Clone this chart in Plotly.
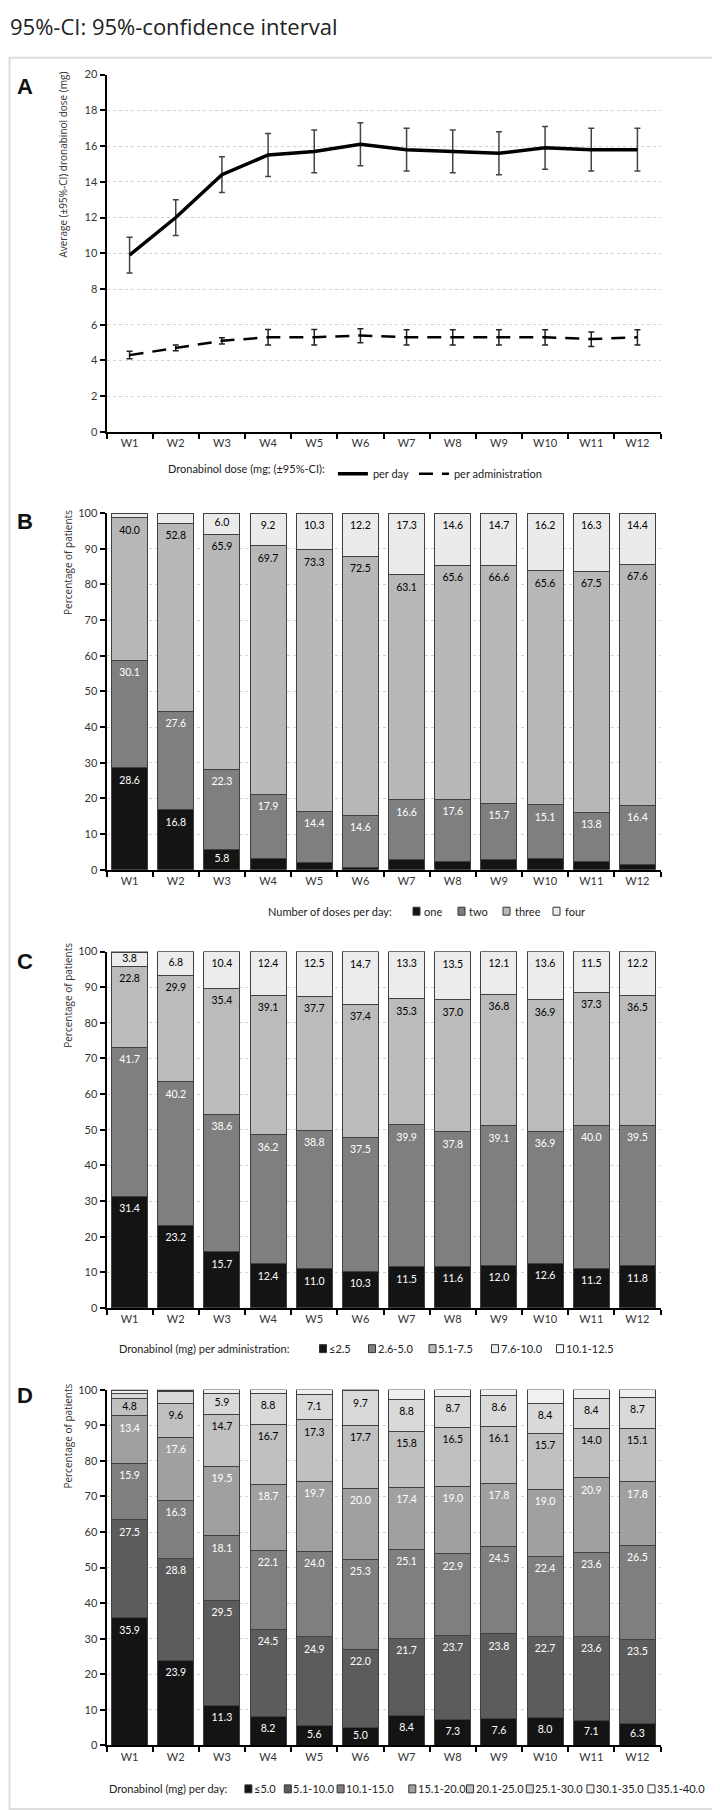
import plotly.graph_objects as go

# ---------------- data ----------------
weeks = ["W1", "W2", "W3", "W4", "W5", "W6", "W7", "W8", "W9", "W10", "W11", "W12"]

# Panel A: average dronabinol dose (mg) with 95%-CI
dose_per_day = [9.9, 12.0, 14.4, 15.5, 15.7, 16.1, 15.8, 15.7, 15.6, 15.9, 15.8, 15.8]
dose_per_day_lo = [8.9, 11.0, 13.4, 14.3, 14.5, 14.9, 14.6, 14.5, 14.4, 14.7, 14.6, 14.6]
dose_per_day_hi = [10.9, 13.0, 15.4, 16.7, 16.9, 17.3, 17.0, 16.9, 16.8, 17.1, 17.0, 17.0]
dose_per_admin = [4.3, 4.7, 5.1, 5.3, 5.3, 5.4, 5.3, 5.3, 5.3, 5.3, 5.2, 5.3]
dose_per_admin_lo = [4.1, 4.55, 4.93, 4.87, 4.87, 5.0, 4.87, 4.87, 4.87, 4.87, 4.78, 4.87]
dose_per_admin_hi = [4.52, 4.87, 5.28, 5.74, 5.74, 5.78, 5.72, 5.72, 5.72, 5.72, 5.6, 5.72]

# Panel B: number of doses per day (% of patients)
b_names = ["one", "two", "three", "four"]
b_one = [28.6, 16.8, 5.8, 3.2, 2.0, 0.7, 3.0, 2.2, 3.0, 3.1, 2.4, 1.6]
b_two = [30.1, 27.6, 22.3, 17.9, 14.4, 14.6, 16.6, 17.6, 15.7, 15.1, 13.8, 16.4]
b_three = [40.0, 52.8, 65.9, 69.7, 73.3, 72.5, 63.1, 65.6, 66.6, 65.6, 67.5, 67.6]
b_four = [1.3, 2.8, 6.0, 9.2, 10.3, 12.2, 17.3, 14.6, 14.7, 16.2, 16.3, 14.4]

# Panel C: dronabinol (mg) per administration (% of patients)
c_names = ["≤2.5", "2.6-5.0", "5.1-7.5", "7.6-10.0", "10.1-12.5"]
c_le25 = [31.4, 23.2, 15.7, 12.4, 11.0, 10.3, 11.5, 11.6, 12.0, 12.6, 11.2, 11.8]
c_26_50 = [41.7, 40.2, 38.6, 36.2, 38.8, 37.5, 39.9, 37.8, 39.1, 36.9, 40.0, 39.5]
c_51_75 = [22.8, 29.9, 35.4, 39.1, 37.7, 37.4, 35.3, 37.0, 36.8, 36.9, 37.3, 36.5]
c_76_100 = [3.8, 6.8, 10.4, 12.4, 12.5, 14.7, 13.3, 13.5, 12.1, 13.6, 11.5, 12.2]
c_101_125 = [0.3, 0, 0, 0, 0, 0, 0, 0, 0, 0, 0, 0]

# Panel D: dronabinol (mg) per day (% of patients)
d_names = ["≤5.0", "5.1-10.0", "10.1-15.0", "15.1-20.0", "20.1-25.0", "25.1-30.0", "30.1-35.0", "35.1-40.0"]
d_le5 = [35.9, 23.9, 11.3, 8.2, 5.6, 5.0, 8.4, 7.3, 7.6, 8.0, 7.1, 6.3]
d_5_10 = [27.5, 28.8, 29.5, 24.5, 24.9, 22.0, 21.7, 23.7, 23.8, 22.7, 23.6, 23.5]
d_10_15 = [15.9, 16.3, 18.1, 22.1, 24.0, 25.3, 25.1, 22.9, 24.5, 22.4, 23.6, 26.5]
d_15_20 = [13.4, 17.6, 19.5, 18.7, 19.7, 20.0, 17.4, 19.0, 17.8, 19.0, 20.9, 17.8]
d_20_25 = [4.8, 9.6, 14.7, 16.7, 17.3, 17.7, 15.8, 16.5, 16.1, 15.7, 14.0, 15.1]
d_25_30 = [1.5, 3.2, 5.9, 8.8, 7.1, 9.7, 8.8, 8.7, 8.6, 8.4, 8.4, 8.7]
d_30_35 = [0.7, 0.5, 1.0, 1.0, 1.4, 0.3, 2.8, 1.9, 1.6, 3.8, 2.4, 2.1]
d_35_40 = [0.3, 0.1, 0, 0, 0, 0, 0, 0, 0, 0, 0, 0]

# ---------------- styling / layout ----------------
W, H = 720, 1810
def px(x):
    return x / W
def py(y):
    return 1 - y / H

LABEL_FONT = "Lato"
TITLE_FONT = "Open Sans"
X_DOMAIN = [px(98.5), px(652.5)]
PANELS = {  # pixel top (max value) / bottom (0) of each plot area
    "A": (60.0, 420.0),
    "B": (501.7, 861.0),
    "C": (943.3, 1302.3),
    "D": (1384.7, 1743.0),
}
LABEL_DROP = 3.7  # value units between a segment's top and its label centre

b_colors = ["#141414", "#7f7f7f", "#b8b8b8", "#ebebeb"]
b_text = ["white", "white", "black", "black"]
c_colors = ["#141414", "#7f7f7f", "#bbbbbb", "#ececec", "#ffffff"]
c_text = ["white", "white", "black", "black", "black"]
d_colors = ["#141414", "#5c5c5c", "#7f7f7f", "#a0a0a0", "#c0c0c0", "#d9d9d9", "#f0f0f0", "#ffffff"]
d_text = ["white", "white", "white", "white", "black", "black", "black", "black"]

fig = go.Figure()

# ---- Panel A ----
fig.add_trace(go.Scatter(
    x=weeks, y=dose_per_day, mode="lines", name="per day",
    line=dict(color="black", width=3.5),
    error_y=dict(type="data", symmetric=False,
                 array=[h - m for h, m in zip(dose_per_day_hi, dose_per_day)],
                 arrayminus=[m - l for m, l in zip(dose_per_day, dose_per_day_lo)],
                 color="#444444", thickness=1.5, width=3),
    xaxis="x", yaxis="y", legend="legend", hoverinfo="skip"))
fig.add_trace(go.Scatter(
    x=weeks, y=dose_per_admin, mode="lines", name="per administration",
    line=dict(color="black", width=2.5, dash="14px,9px"),
    error_y=dict(type="data", symmetric=False,
                 array=[h - m for h, m in zip(dose_per_admin_hi, dose_per_admin)],
                 arrayminus=[m - l for m, l in zip(dose_per_admin, dose_per_admin_lo)],
                 color="#222222", thickness=1.5, width=3),
    xaxis="x", yaxis="y", legend="legend", hoverinfo="skip"))

def add_stack(series, names, colors, tcolors, ax, threshold):
    base = [0.0] * len(weeks)
    label_traces = []
    for vals, nm, col, tc in zip(series, names, colors, tcolors):
        fig.add_trace(go.Bar(
            x=weeks, y=vals, name=nm,
            marker=dict(color=col, line=dict(color="#404040", width=1)),
            xaxis="x" + ax, yaxis="y" + ax, showlegend=False, hoverinfo="skip"))
        tops = [b + v for b, v in zip(base, vals)]
        ly = [max(t - LABEL_DROP, (b + t) / 2) for b, t in zip(base, tops)]
        labels = [f"{v:.1f}" if v >= threshold else "" for v in vals]
        label_traces.append(go.Scatter(
            x=weeks, y=ly, mode="text", text=labels, textposition="middle center",
            textfont=dict(family=LABEL_FONT, size=10.5, color=tc),
            xaxis="x" + ax, yaxis="y" + ax, showlegend=False, hoverinfo="skip",
            cliponaxis=False))
        base = tops
    for t in label_traces:
        fig.add_trace(t)

add_stack([b_one, b_two, b_three, b_four], b_names, b_colors, b_text, "2", 5.0)
add_stack([c_le25, c_26_50, c_51_75, c_76_100, c_101_125], c_names, c_colors, c_text, "3", 3.5)
add_stack([d_le5, d_5_10, d_10_15, d_15_20, d_20_25, d_25_30, d_30_35, d_35_40],
          d_names, d_colors, d_text, "4", 4.5)

tickfont = dict(family=LABEL_FONT, size=11, color="#333333")
layout_axes = {}
for i, key in enumerate(["A", "B", "C", "D"]):
    suffix = "" if i == 0 else str(i + 1)
    top, bottom = PANELS[key]
    layout_axes["xaxis" + suffix] = dict(
        domain=X_DOMAIN, anchor="y" + suffix, type="category", range=[-0.5, 11.5],
        tickson="boundaries", ticks="outside", ticklen=5, tickwidth=1.5, tickcolor="black",
        showline=True, linecolor="black", linewidth=2, showgrid=False, zeroline=False,
        tickfont=tickfont, fixedrange=True)
    if key == "A":
        yr, dt = [0, 20], 2
    else:
        yr, dt = [0, 100], 10
    layout_axes["yaxis" + suffix] = dict(
        domain=[py(bottom), py(top)], anchor="x" + suffix, range=yr, dtick=dt,
        ticks="outside", ticklen=5, tickwidth=1.5, tickcolor="black",
        showline=True, linecolor="black", linewidth=2,
        showgrid=True, gridcolor="#d2d2d2", gridwidth=1, griddash="dot",
        zeroline=False, tickfont=tickfont, fixedrange=True)

annotations = []
shapes = []

# top caption
annotations.append(dict(text="95%-CI: 95%-confidence interval", x=0, y=py(11), xref="paper", yref="paper",
                        xanchor="left", yanchor="middle", showarrow=False,
                        font=dict(family=TITLE_FONT, size=22, color="#222222")))
# outer frame
shapes.append(dict(type="rect", xref="paper", yref="paper", x0=px(1.5), x1=px(718), y0=py(1807), y1=py(43),
                   line=dict(color="#dddddd", width=2), fillcolor="rgba(0,0,0,0)", layer="below"))

# panel letters
for letter, yc in [("A", 72), ("B", 510), ("C", 953), ("D", 1390.5)]:
    annotations.append(dict(text=f"<b>{letter}</b>", x=px(17), y=py(yc), xref="paper", yref="paper",
                            xanchor="center", yanchor="middle", showarrow=False,
                            font=dict(family="Liberation Sans", size=22, color="#111111")))

# y-axis titles
for txt, xc, ytop in [("Average (±95%-CI) dronabinol dose (mg)", 55, 55),
                      ("Percentage of patients", 60, 497),
                      ("Percentage of patients", 60, 933),
                      ("Percentage of patients", 60, 1377)]:
    annotations.append(dict(text=txt, x=px(xc), y=py(ytop), xref="paper", yref="paper",
                            xanchor="center", yanchor="top", textangle=-90, showarrow=False,
                            font=dict(family=TITLE_FONT, size=10, color="#333333")))

# manual legends for the stacked bar panels
LEG_FONT = dict(family=LABEL_FONT, size=11, color="#222222")
def manual_legend(title, title_x, yc, names, colors, centers, text_dx):
    annotations.append(dict(text=title, x=px(title_x), y=py(yc), xref="paper", yref="paper",
                            xanchor="left", yanchor="middle", showarrow=False, font=LEG_FONT))
    for nm, col, c in zip(names, colors, centers):
        shapes.append(dict(type="rect", xref="paper", yref="paper",
                           x0=px(c - 3.5), x1=px(c + 3.5), y0=py(yc + 4), y1=py(yc - 4),
                           line=dict(color="#333333", width=1), fillcolor=col))
        annotations.append(dict(text=nm, x=px(c + text_dx), y=py(yc), xref="paper", yref="paper",
                                xanchor="left", yanchor="middle", showarrow=False, font=LEG_FONT))

manual_legend("Number of doses per day:", 258, 902.7, b_names, b_colors,
              [408.5, 453.5, 498.5, 548.5], 6)
manual_legend("Dronabinol (mg) per administration:", 108.8, 1343.3, c_names, c_colors,
              [315, 364, 424.5, 487, 552], 3.5)
manual_legend("Dronabinol (mg) per day:", 98.7, 1786.7, d_names, d_colors,
              [240.4, 279.8, 332.6, 404.3, 462, 521.8, 582.4, 643.5], 3.5)

fig.update_layout(
    width=W, height=H, margin=dict(l=0, r=0, t=0, b=0),
    paper_bgcolor="white", plot_bgcolor="white",
    barmode="stack", bargap=0.22,
    font=dict(family=LABEL_FONT, size=11, color="#222222"),
    legend=dict(x=px(158), xanchor="left", y=py(462), yanchor="middle", orientation="h",
                title=dict(text="Dronabinol dose (mg; (±95%-CI):", side="left",
                           font=dict(family=LABEL_FONT, size=11, color="#222222")),
                font=dict(family=LABEL_FONT, size=11, color="#222222"),
                bgcolor="rgba(0,0,0,0)", itemwidth=30, traceorder="normal"),
    annotations=annotations, shapes=shapes,
    **layout_axes,
)

fig.write_html("out.html", config={"displayModeBar": False})
